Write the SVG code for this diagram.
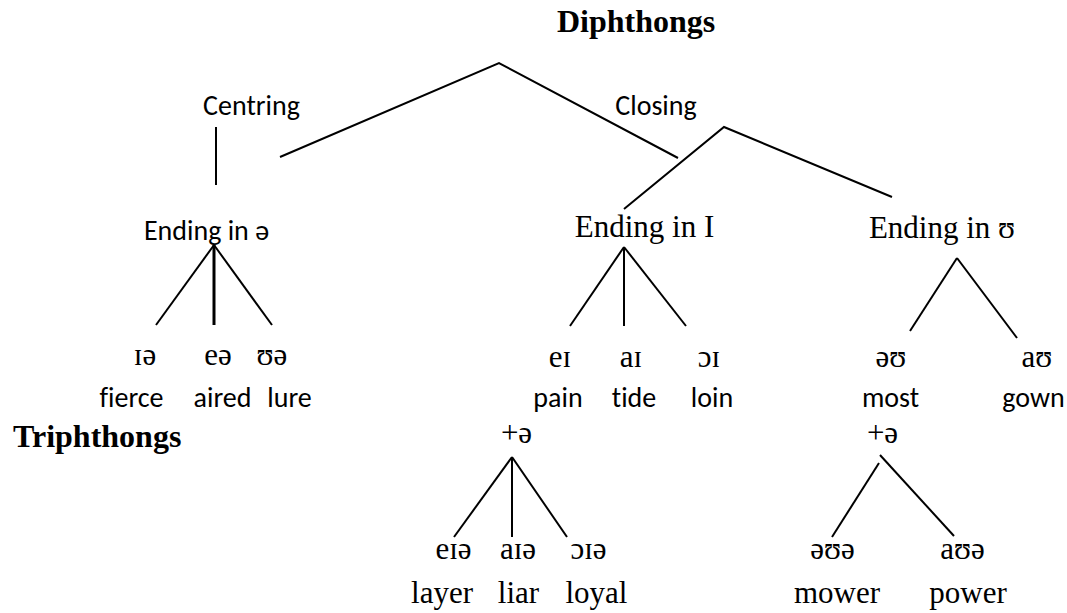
<svg xmlns="http://www.w3.org/2000/svg" width="1067" height="613" viewBox="0 0 1067 613">
<style>
  .bg { fill: #ffffff; }
  .serif { font-family: "Liberation Serif", "Times New Roman", serif; font-size: 31px; fill: #000; text-anchor: middle; }
  .title { font-family: "Liberation Serif", "Times New Roman", serif; font-size: 32px; font-weight: bold; fill: #000; }
  .sans { font-family: Carlito, Lato, "Liberation Sans", sans-serif; font-size: 28px; fill: #000; text-anchor: middle; font-variant-ligatures: none; }
  .ln { stroke: #000; stroke-width: 2; fill: none; stroke-linecap: butt; stroke-linejoin: miter; }
  .thick { stroke-width: 3; }
</style>
<rect class="bg" x="0" y="0" width="1067" height="613"/>

<g id="connectors">
  <polyline class="ln" points="280,157 499,63 678,158"/>
  <line class="ln" x1="216" y1="127" x2="216" y2="185"/>
  <polyline class="ln" points="624,209 724,127 892,197"/>
  <line class="ln" x1="214" y1="245" x2="156" y2="325"/>
  <line class="ln thick" x1="214" y1="245" x2="214" y2="325"/>
  <line class="ln" x1="214" y1="245" x2="272" y2="325"/>
  <line class="ln" x1="624" y1="247" x2="570" y2="326"/>
  <line class="ln" x1="624" y1="247" x2="624" y2="326"/>
  <line class="ln" x1="624" y1="247" x2="686" y2="326"/>
  <line class="ln" x1="957" y1="258" x2="910" y2="331"/>
  <line class="ln" x1="957" y1="258" x2="1017" y2="338"/>
  <line class="ln" x1="512" y1="457" x2="454" y2="537"/>
  <line class="ln" x1="512" y1="457" x2="512" y2="537"/>
  <line class="ln" x1="512" y1="457" x2="567" y2="537"/>
  <line class="ln" x1="879" y1="463" x2="832" y2="537"/>
  <line class="ln" x1="880" y1="455" x2="954" y2="536"/>
</g>

<g id="diphthongs"><text class="title" x="557" y="32">Diphthongs</text></g>
<g id="triphthongs"><text class="title" x="13" y="447">Triphthongs</text></g>

<g id="centring"><text class="sans" x="251.5" y="115">Centring</text></g>
<g id="closing"><text class="sans" x="656" y="115">Closing</text></g>

<g id="ending-schwa"><text class="sans" x="206.5" y="240">Ending in ə</text></g>
<g id="ending-i"><text class="serif" x="644.5" y="237">Ending in I</text></g>
<g id="ending-u"><text class="serif" x="942" y="238">Ending in ʊ</text></g>

<g id="ia"><text class="serif" x="145" y="365">ɪə</text><text class="sans" x="131.5" y="407">fierce</text></g>
<g id="ea"><text class="serif" x="218" y="365">eə</text><text class="sans" x="222.5" y="407">aired</text></g>
<g id="ua"><text class="serif" x="272" y="365">ʊə</text><text class="sans" x="289.5" y="407">lure</text></g>

<g id="ei"><text class="serif" x="560" y="367">eɪ</text><text class="sans" x="558" y="407">pain</text></g>
<g id="ai"><text class="serif" x="631" y="367">aɪ</text><text class="sans" x="634" y="407">tide</text></g>
<g id="oi"><text class="serif" x="709" y="367">ɔɪ</text><text class="sans" x="712" y="407">loin</text></g>

<g id="ou"><text class="serif" x="891" y="367">əʊ</text><text class="sans" x="890.5" y="407">most</text></g>
<g id="au"><text class="serif" x="1037" y="367">aʊ</text><text class="sans" x="1033.5" y="407">gown</text></g>

<g id="plus-schwa-1"><text class="serif" x="516.5" y="443">+ə</text></g>
<g id="plus-schwa-2"><text class="serif" x="882.5" y="443">+ə</text></g>

<g id="eia"><text class="serif" x="453.5" y="559">eɪə</text><text class="serif" x="442" y="603">layer</text></g>
<g id="aia"><text class="serif" x="518" y="559">aɪə</text><text class="serif" x="518.5" y="603">liar</text></g>
<g id="oia"><text class="serif" x="588.5" y="559">ɔɪə</text><text class="serif" x="596.5" y="603">loyal</text></g>

<g id="oua"><text class="serif" x="832.5" y="559">əʊə</text><text class="serif" x="837" y="603">mower</text></g>
<g id="aua"><text class="serif" x="962.5" y="559">aʊə</text><text class="serif" x="968" y="603">power</text></g>
</svg>
